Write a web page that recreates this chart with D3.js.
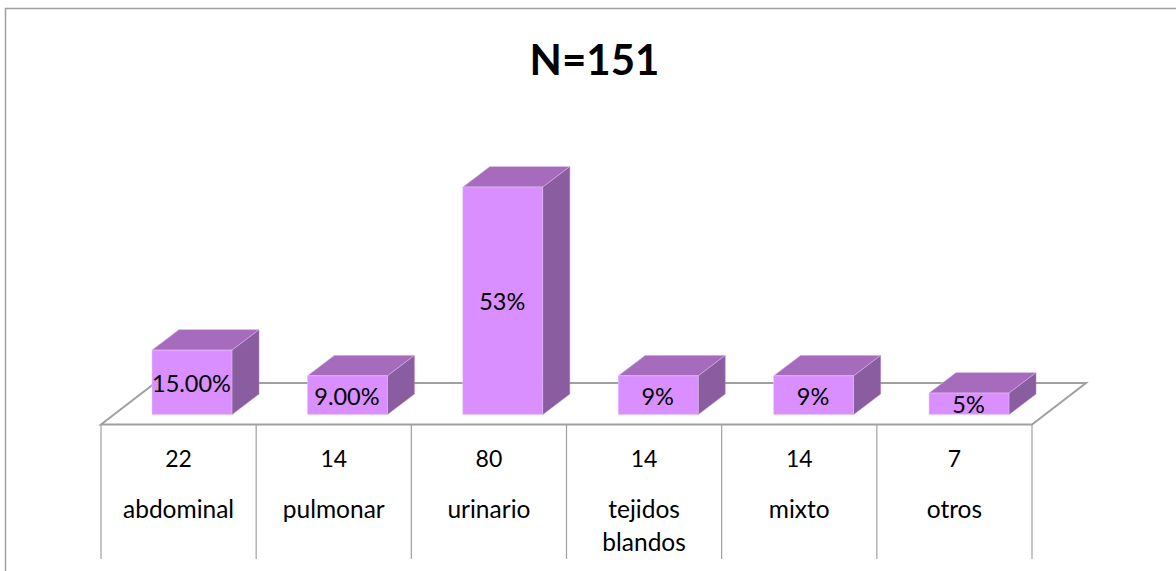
<!DOCTYPE html>
<html><head><meta charset="utf-8">
<script src="https://cdn.jsdelivr.net/npm/d3@7/dist/d3.min.js"></script>
<style>html,body{margin:0;padding:0;background:#fff}svg{display:block}text{font-family:Lato,"Open Sans",sans-serif;fill:#000}</style>
</head><body><svg id="c" width="1176" height="571"></svg>
<script>
const categories=[["abdominal"],["pulmonar"],["urinario"],["tejidos","blandos"],["mixto"],["otros"]];
const counts=[22,14,80,14,14,7];
const percents=[15,9,53,9,9,5];
const percentLabels=["15.00%","9.00%","53%","9%","9%","5%"];
const title="N=151";

const W=1176,H=571;
const svg=d3.select("#c");
const gridColor="#a0a0a0";
// frame
svg.append("path").attr("d","M5.5 571V8.5H1176").attr("fill","none").attr("stroke",gridColor).attr("stroke-width",1.5);
svg.append("text").attr("x",594.5).attr("y",75).attr("text-anchor","middle").attr("font-size",42).attr("font-weight",700).text(title);

const x=d3.scaleBand().domain(d3.range(categories.length)).range([101,1032]);
const xBar=d3.scaleBand().domain(d3.range(categories.length)).range([152,1084.4]);
const baseY=414.5;
const y=d3.scaleLinear().domain([0,53]).range([baseY,187]);
const floorDx=54,floorDy=-41.5,frontY=424.5,tableBottom=559;
const barW=80,depthX=27,depthY=-20.5;

// floor
const fx0=x.range()[0],fx1=x.range()[1];
svg.append("path").attr("fill","none").attr("stroke",gridColor).attr("stroke-width",2)
 .attr("d",`M${fx0} ${frontY}L${fx0+floorDx} ${frontY+floorDy}H${fx1+floorDx}L${fx1} ${frontY}Z`);
// table rules
const edges=d3.range(categories.length).map(i=>x(i)).concat(fx1);
svg.selectAll("line.v").data(edges).join("line").attr("class","v")
 .attr("x1",d=>d).attr("x2",d=>d).attr("y1",frontY).attr("y2",tableBottom)
 .attr("stroke",gridColor).attr("stroke-width",1.2);

// bars
const bars=svg.selectAll("g.bar").data(percents).join("g").attr("class","bar");
const edge="#e8c8f5";
bars.append("path").attr("fill","#8a5ca0").attr("stroke","#a880bb").attr("stroke-width",.5)
 .attr("d",(d,i)=>{const r=xBar(i)+barW,t=y(d);return `M${r} ${baseY}L${r+depthX} ${baseY+depthY}V${t+depthY}L${r} ${t}Z`;});
bars.append("path").attr("fill","#a66bbd").attr("stroke",edge).attr("stroke-width",.5)
 .attr("d",(d,i)=>{const l=xBar(i),t=y(d);return `M${l} ${t}L${l+depthX} ${t+depthY}H${l+barW+depthX}L${l+barW} ${t}Z`;});
bars.append("rect").attr("fill","#d98fff").attr("stroke",edge).attr("stroke-width",.5)
 .attr("x",(d,i)=>xBar(i)).attr("width",barW)
 .attr("y",d=>y(d)).attr("height",d=>baseY-y(d));
bars.append("text").attr("text-anchor","middle").attr("font-size",23.5)
 .attr("x",(d,i)=>xBar(i)+barW/2-.5)
 .attr("y",d=>(y(d)+baseY)/2+9.5)
 .text((d,i)=>percentLabels[i]);

// table text
const cx=i=>x(i)+x.bandwidth()/2;
svg.selectAll("text.n").data(counts).join("text").attr("class","n").attr("text-anchor","middle").attr("font-size",23)
 .attr("x",(d,i)=>cx(i)).attr("y",467).text(d=>d);
categories.forEach((lines,i)=>lines.forEach((s,j)=>{
 svg.append("text").attr("text-anchor","middle").attr("font-size",24.5)
  .attr("x",cx(i)).attr("y",518+j*33).text(s);
}));
</script></body></html>
